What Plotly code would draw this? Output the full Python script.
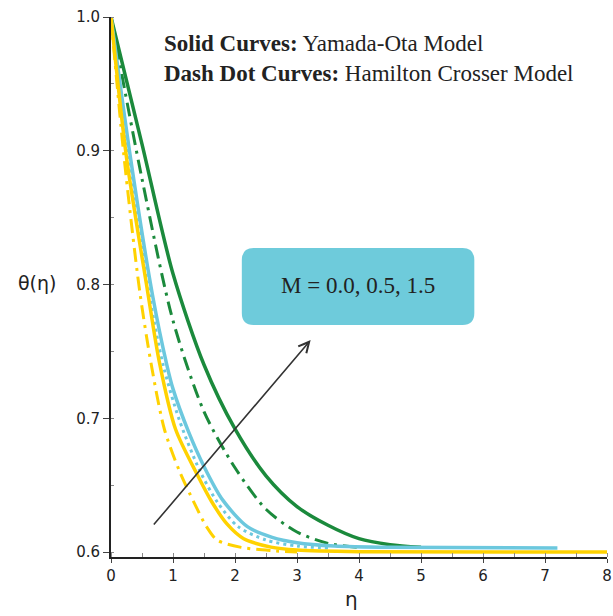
import plotly.graph_objects as go

# ---- data ----
eta_yo_m00 = [0, 0.25, 0.59, 0.78, 1.04, 1.39, 1.62, 1.87, 2.14, 2.58, 3.0, 4.0, 8.0]
th_yo_m00 = [1.0, 0.895, 0.795, 0.742, 0.692, 0.658, 0.638, 0.621, 0.610, 0.6037, 0.6015, 0.6003, 0.600]

eta_hc_m00 = [0, 0.2, 0.46, 0.65, 0.86, 1.10, 1.34, 1.54, 1.71, 2.1, 2.6, 3.0]
th_hc_m00 = [1.0, 0.90, 0.796, 0.740, 0.692, 0.661, 0.637, 0.619, 0.609, 0.6035, 0.601, 0.600]

eta_yo_m05 = [0, 0.32, 0.67, 0.90, 1.0, 1.25, 1.5, 1.8, 2.2, 2.6, 3.0, 3.6, 4.5, 7.2]
th_yo_m05 = [1.0, 0.893, 0.792, 0.740, 0.722, 0.690, 0.664, 0.639, 0.619, 0.611, 0.607, 0.6045, 0.6035, 0.603]

eta_hc_m05 = [0, 0.30, 0.62, 0.84, 1.10, 1.43, 1.72, 2.05, 2.5, 3.0, 3.5]
th_hc_m05 = [1.0, 0.893, 0.792, 0.740, 0.699, 0.661, 0.637, 0.619, 0.609, 0.6045, 0.603]

eta_yo_m15 = [0, 0.5, 1.0, 1.5, 2.0, 2.5, 3.0, 3.5, 4.0, 4.5, 5.0]
th_yo_m15 = [1.0, 0.905, 0.808, 0.740, 0.692, 0.657, 0.634, 0.620, 0.610, 0.6055, 0.6035]

eta_hc_m15 = [0, 0.5, 1.0, 1.5, 2.0, 2.5, 3.0, 3.5, 4.0]
th_hc_m15 = [1.0, 0.879, 0.773, 0.705, 0.663, 0.632, 0.615, 0.6065, 0.6035]

x_ticks = [0, 1, 2, 3, 4, 5, 6, 7, 8]
y_ticks = [0.6, 0.7, 0.8, 0.9, 1.0]

YELLOW = "#FFD200"
BLUE = "#6CC8DE"
GREEN = "#1B8A3C"
DASHDOT = "14px,6px,3px,6px"

fig = go.Figure()

def add(x, y, color, dash, width):
    fig.add_trace(go.Scatter(x=x, y=y, mode="lines",
                             line=dict(color=color, width=width, dash=dash,
                                       shape="spline", smoothing=0.8),
                             showlegend=False, hoverinfo="skip"))

add(eta_hc_m15, th_hc_m15, GREEN, DASHDOT, 3)
add(eta_yo_m15, th_yo_m15, GREEN, "solid", 3.5)
add(eta_hc_m05, th_hc_m05, BLUE, "3px,4px", 3)
add(eta_yo_m05, th_yo_m05, BLUE, "solid", 3.5)
add(eta_hc_m00, th_hc_m00, YELLOW, DASHDOT, 3)
add(eta_yo_m00, th_yo_m00, YELLOW, "solid", 3.5)

# rounded box
bx0, bx1, by0, by1 = 2.11, 5.86, 0.7697, 0.8273
rx, ry = 0.19, 0.009
path = (f"M{bx0+rx},{by1} L{bx1-rx},{by1} Q{bx1},{by1} {bx1},{by1-ry} "
        f"L{bx1},{by0+ry} Q{bx1},{by0} {bx1-rx},{by0} L{bx0+rx},{by0} "
        f"Q{bx0},{by0} {bx0},{by0+ry} L{bx0},{by1-ry} Q{bx0},{by1} {bx0+rx},{by1} Z")
fig.add_shape(type="path", path=path, xref="x", yref="y",
              fillcolor="#6ECBDB", line=dict(width=0), layer="above")

fig.add_annotation(x=3.98, y=0.7996, xref="x", yref="y", text="M = 0.0, 0.5, 1.5",
                   showarrow=False, font=dict(family="Liberation Serif", size=23, color="#222"))

# arrow
fig.add_annotation(x=3.22, y=0.7585, ax=0.67, ay=0.6194, xref="x", yref="y",
                   axref="x", ayref="y", text="", showarrow=True,
                   arrowhead=5, arrowsize=1.3, arrowwidth=1.6, arrowcolor="#333")

# legend text
fig.add_annotation(x=0.83, y=0.969, xref="x", yref="y", xanchor="left", align="left",
                   text="<b>Solid Curves:</b> Yamada-Ota Model<br><b>Dash Dot Curves:</b> Hamilton Crosser Model",
                   showarrow=False,
                   font=dict(family="Liberation Serif", size=23, color="#222"))

# axis titles
fig.add_annotation(x=-0.148, y=0.507, xref="paper", yref="paper", xanchor="center",
                   yanchor="middle", text="θ(η)",
                   showarrow=False, font=dict(family="DejaVu Sans", size=19, color="#222"))
fig.add_annotation(x=0.485, y=-0.078, xref="paper", yref="paper", xanchor="center",
                   yanchor="middle", text="η",
                   showarrow=False, font=dict(family="DejaVu Sans", size=20, color="#222"))

fig.update_layout(
    width=613, height=616,
    margin=dict(l=111, r=1, t=17, b=59),
    paper_bgcolor="white", plot_bgcolor="white",
    xaxis=dict(range=[0, 8], tickvals=x_ticks, showgrid=False, zeroline=False,
               showline=True, linecolor="#222", linewidth=2,
               ticks="outside", ticklen=4, tickcolor="#444",
               ticklabeloverflow="allow",
               minor=dict(dtick=0.5, ticks="inside", ticklen=4, tickcolor="#888"),
               tickfont=dict(family="DejaVu Sans", size=15, color="#222")),
    yaxis=dict(range=[0.5963, 1.0], tickvals=y_ticks, tickformat=".1f", showgrid=False,
               zeroline=False, showline=True, linecolor="#222", linewidth=2,
               ticks="outside", ticklen=6, tickcolor="#444",
               minor=dict(dtick=0.05, ticks="inside", ticklen=3, tickcolor="#888"),
               tickfont=dict(family="DejaVu Sans", size=15, color="#222")),
)

fig.write_html("out.html")
